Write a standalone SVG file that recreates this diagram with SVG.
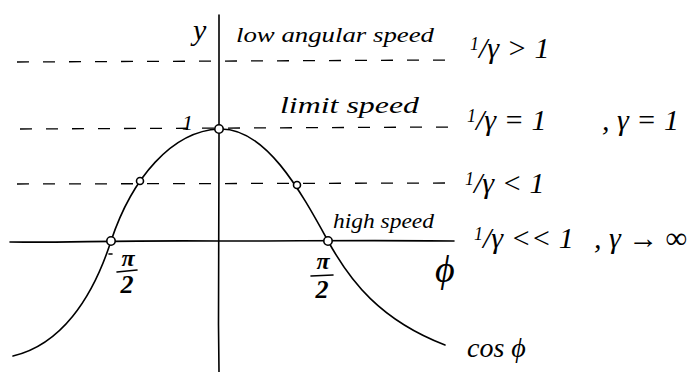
<svg xmlns="http://www.w3.org/2000/svg" width="688" height="372" viewBox="0 0 688 372">
<style>
.ln{fill:none;stroke:#000;stroke-width:1.6;stroke-linecap:round}
.dash{fill:none;stroke:#000;stroke-width:1.3;stroke-dasharray:12 14}
.pt{fill:#fff;stroke:#000;stroke-width:1.6}
.t{font-family:"Liberation Serif",serif;font-style:italic;fill:#000}
</style>
<rect width="688" height="372" fill="#fff"/>
<g id="guides">
<line class="dash" x1="17" y1="62" x2="452" y2="60"/>
<line class="dash" x1="20" y1="129" x2="455" y2="127"/>
<line class="dash" x1="17" y1="184" x2="455" y2="183"/>
</g>
<g id="axes">
<path class="ln" d="M219,15 L219,140 L218.5,325 L219,372"/>
<path class="ln" d="M10,242 C60,243 120,240 219,241 C300,241 380,240 454,241"/>
</g>
<g id="curve">
<path class="ln" d="M13,356 C60,345 92,300 111,241 C132,178 172,131 219,129 C265,127 300,190 328,241 C350,281 380,320 445,345"/>
</g>
<g id="points">
<circle class="pt" cx="219" cy="129" r="4.2"/>
<circle class="pt" cx="140" cy="181" r="3.5"/>
<circle class="pt" cx="297" cy="185" r="3.5"/>
<circle class="pt" cx="111" cy="241" r="4.2"/>
<circle class="pt" cx="328" cy="241" r="4.2"/>
</g>
<g id="labels">
<text class="t" x="193" y="40" font-size="30">y</text>
<text class="t" x="182" y="130" font-size="22">1</text>
<text class="t" x="236" y="42" font-size="22" textLength="198" lengthAdjust="spacingAndGlyphs">low angular speed</text>
<text class="t" x="280" y="113" font-size="24" textLength="139" lengthAdjust="spacingAndGlyphs">limit speed</text>
<text class="t" x="333" y="228" font-size="21" textLength="101" lengthAdjust="spacingAndGlyphs">high speed</text>
<text class="t" x="435" y="282" font-size="38">ϕ</text>
<text class="t" x="467" y="357" font-size="28">cos ϕ</text>
<g id="neg-half-pi">
<line class="ln" x1="109" y1="254" x2="112" y2="254"/>
<text class="t" x="128" y="266" font-size="24" font-weight="bold" text-anchor="middle">π</text>
<line class="ln" x1="117" y1="272" x2="137" y2="270"/>
<text class="t" x="127" y="293" font-size="26" font-weight="bold" text-anchor="middle">2</text>
</g>
<g id="half-pi">
<text class="t" x="323" y="269" font-size="24" font-weight="bold" text-anchor="middle">π</text>
<line class="ln" x1="311" y1="276" x2="333" y2="275"/>
<text class="t" x="322" y="298" font-size="26" font-weight="bold" text-anchor="middle">2</text>
</g>
<text class="t" x="470" y="58" font-size="30"><tspan font-size="18" dy="-8">1</tspan><tspan dy="8">/γ &gt; 1</tspan></text>
<text class="t" x="467" y="130" font-size="30"><tspan font-size="18" dy="-8">1</tspan><tspan dy="8">/γ = 1</tspan></text>
<text class="t" x="602" y="130" font-size="30">, γ = 1</text>
<text class="t" x="465" y="193" font-size="30"><tspan font-size="18" dy="-8">1</tspan><tspan dy="8">/γ &lt; 1</tspan></text>
<text class="t" x="474" y="248" font-size="30"><tspan font-size="18" dy="-8">1</tspan><tspan dy="8">/γ &lt;&lt; 1</tspan></text>
<text class="t" x="594" y="248" font-size="30">, γ → ∞</text>
</g>
</svg>
